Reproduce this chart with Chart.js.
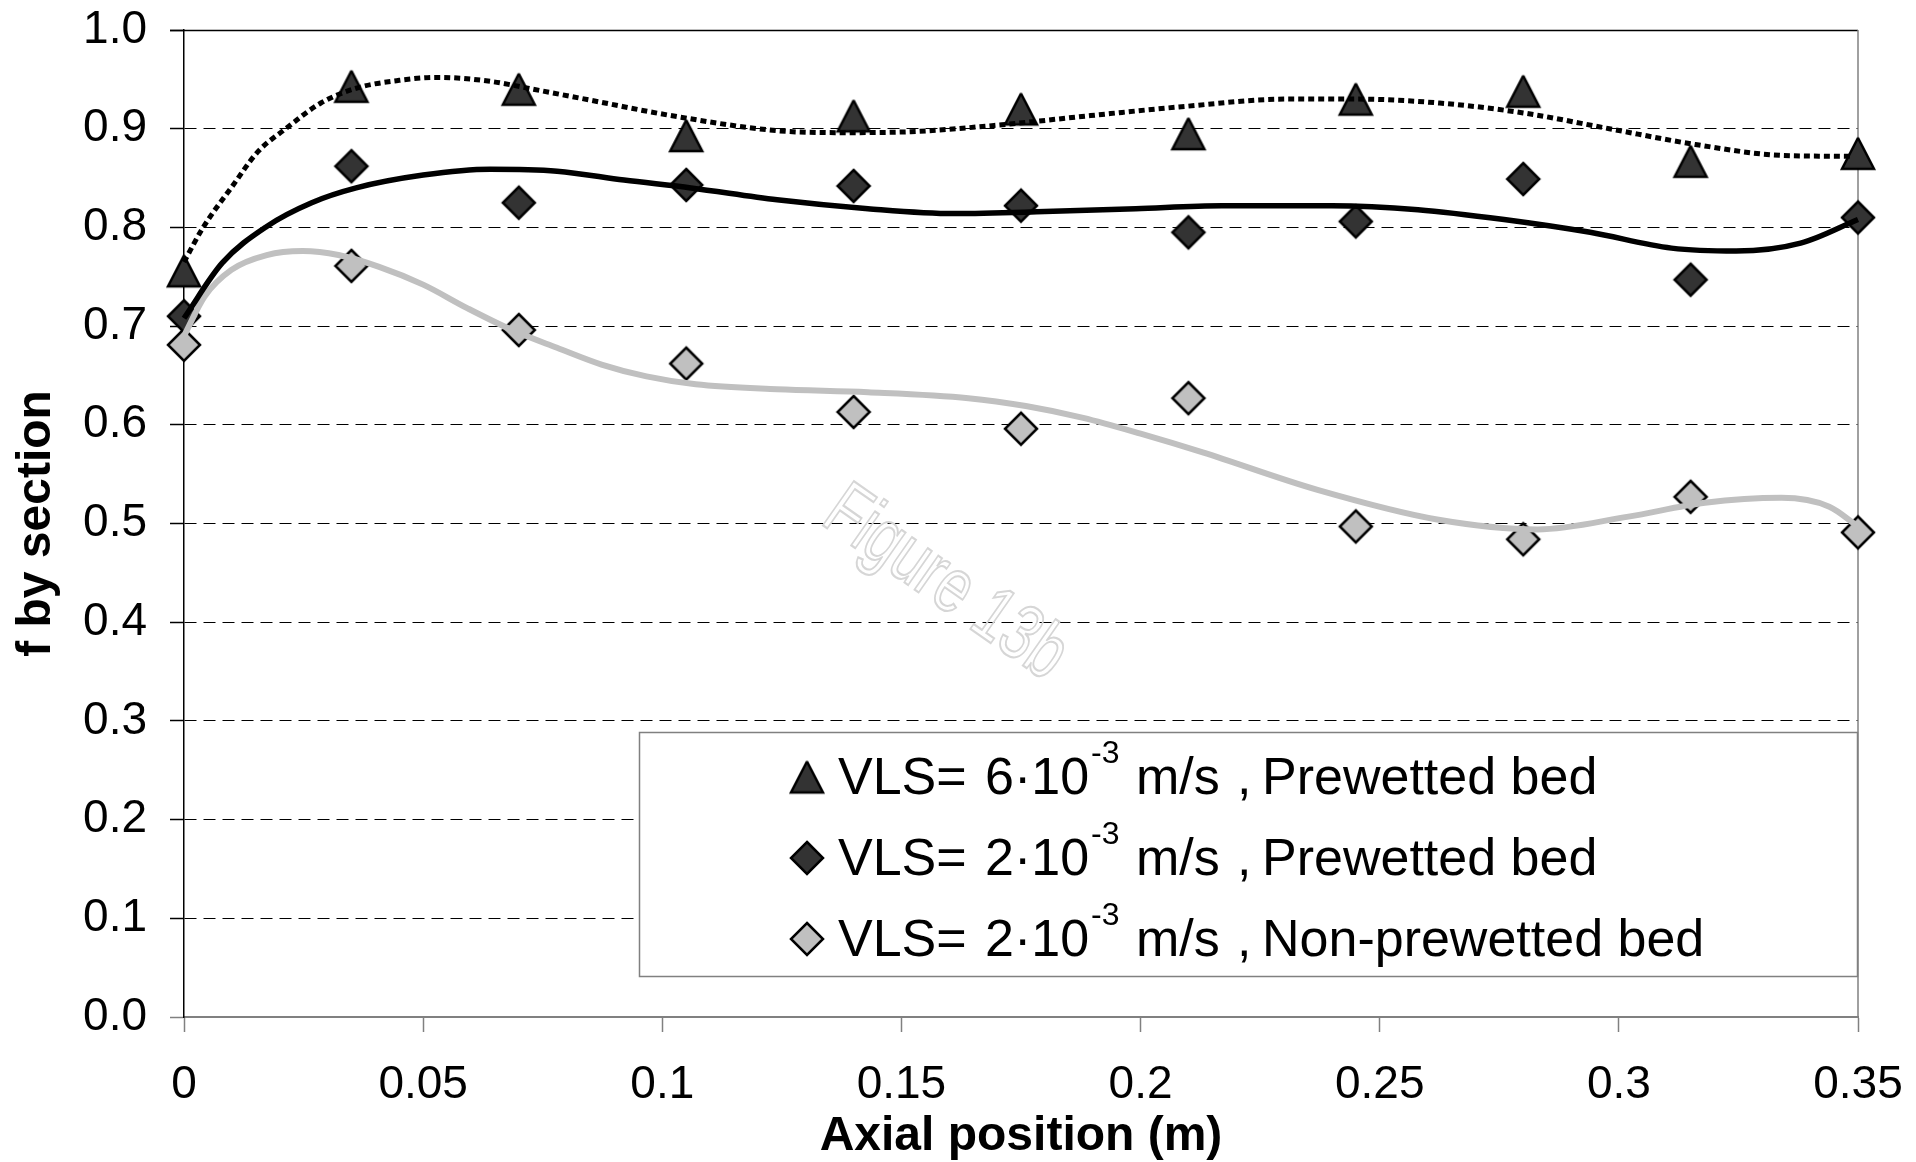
<!DOCTYPE html>
<html>
<head>
<meta charset="utf-8">
<title>f by section vs axial position</title>
<script src="https://cdn.jsdelivr.net/npm/chart.js@4.4.0/dist/chart.umd.min.js"></script>
<style>
    html, body { margin: 0; padding: 0; background: #ffffff; }
    #wrap { width: 1916px; height: 1162px; }
</style>
</head>
<body>
<div id="wrap"><canvas id="chart" width="1916" height="1162"></canvas></div>
<script>
// measured points
const xPositions = [0, 0.035, 0.07, 0.105, 0.14, 0.175, 0.21, 0.245, 0.28, 0.315, 0.35];
const fHighPrewetted = [0.756, 0.943, 0.940, 0.893, 0.913, 0.920, 0.895, 0.930, 0.938, 0.867, 0.875];
const fLowPrewetted = [0.710, 0.862, 0.825, 0.843, 0.842, 0.822, 0.795, 0.806, 0.849, 0.747, 0.810];
const fLowNonPrewetted = [0.681, 0.761, 0.696, 0.662, 0.613, 0.596, 0.627, 0.497, 0.484, 0.527, 0.491];

// trend curves
const trendHighX = [0, 0.004, 0.010, 0.0155, 0.021, 0.0286, 0.036, 0.045, 0.053, 0.064, 0.073, 0.087, 0.101, 0.124, 0.138, 0.152, 0.171, 0.189, 0.208, 0.231, 0.245, 0.2625, 0.280, 0.298, 0.316, 0.334, 0.349];
const trendHighY = [0.765, 0.800, 0.841, 0.877, 0.899, 0.926, 0.941, 0.949, 0.952, 0.948, 0.940, 0.927, 0.914, 0.898, 0.896, 0.897, 0.904, 0.913, 0.922, 0.930, 0.930, 0.926, 0.916, 0.900, 0.884, 0.873, 0.872];

const trendLowX = [0, 0.008, 0.0173, 0.0267, 0.036, 0.050, 0.064, 0.078, 0.092, 0.106, 0.124, 0.143, 0.161, 0.180, 0.199, 0.217, 0.240, 0.258, 0.276, 0.294, 0.311, 0.3245, 0.338, 0.350];
const trendLowY = [0.708, 0.764, 0.801, 0.825, 0.840, 0.853, 0.859, 0.857, 0.848, 0.840, 0.828, 0.819, 0.814, 0.816, 0.819, 0.822, 0.822, 0.818, 0.808, 0.795, 0.779, 0.776, 0.784, 0.808];

const trendNonX = [0, 0.0043, 0.0099, 0.0173, 0.0248, 0.0323, 0.0408, 0.050, 0.0593, 0.0686, 0.078, 0.0873, 0.0967, 0.107, 0.124, 0.143, 0.164, 0.176, 0.188, 0.200, 0.213, 0.237, 0.262, 0.283, 0.302, 0.318, 0.334, 0.344, 0.350];
const trendNonY = [0.690, 0.730, 0.757, 0.772, 0.776, 0.772, 0.760, 0.742, 0.718, 0.696, 0.678, 0.661, 0.649, 0.641, 0.636, 0.633, 0.627, 0.619, 0.607, 0.591, 0.572, 0.534, 0.504, 0.494, 0.507, 0.521, 0.526, 0.517, 0.497];

const xTickLabels = ['0', '0.05', '0.1', '0.15', '0.2', '0.25', '0.3', '0.35'];
const yTickLabels = ['0.0', '0.1', '0.2', '0.3', '0.4', '0.5', '0.6', '0.7', '0.8', '0.9', '1.0'];

const legendNumbers = ['6\u00B710', '2\u00B710', '2\u00B710'];
const legendBeds = ['Prewetted bed', 'Prewetted bed', 'Non-prewetted bed'];

const FONT = "'Liberation Sans', Arial, sans-serif";

function makeMarker(shape, fill, w, h) {
    const c = document.createElement('canvas');
    c.width = w + 8;
    c.height = h + 8;
    const g = c.getContext('2d');
    const cx = c.width / 2, cy = c.height / 2;
    g.beginPath();
    if (shape === 'triangle') {
        g.moveTo(cx, cy - h / 2);
        g.lineTo(cx + w / 2, cy + h / 2);
        g.lineTo(cx - w / 2, cy + h / 2);
    } else {
        g.moveTo(cx, cy - h / 2);
        g.lineTo(cx + w / 2, cy);
        g.lineTo(cx, cy + h / 2);
        g.lineTo(cx - w / 2, cy);
    }
    g.closePath();
    g.fillStyle = fill;
    g.fill();
    g.lineWidth = 2.5;
    g.miterLimit = 2;
    g.strokeStyle = '#000000';
    g.stroke();
    return c;
}

const triangleDark = makeMarker('triangle', '#333333', 32, 31);
const diamondDark = makeMarker('diamond', '#333333', 32, 32);
const diamondLight = makeMarker('diamond', '#c0c0c0', 32, 32);
const legendMarkers = [triangleDark, diamondDark, diamondLight];

const toPoints = (xs, ys) => ys.map((v, i) => ({ x: xs[i], y: v }));

// frame: solid top edge and grey right edge like the original plot area
const framePlugin = {
    id: 'frame',
    beforeDatasetsDraw(chart) {
        const { ctx, chartArea: a } = chart;
        ctx.save();
        ctx.strokeStyle = '#000000';
        ctx.lineWidth = 1.5;
        ctx.beginPath();
        ctx.moveTo(a.left - 14, Math.round(a.top) + 0.5);
        ctx.lineTo(a.right, Math.round(a.top) + 0.5);
        ctx.stroke();
        ctx.strokeStyle = '#808080';
        ctx.lineWidth = 1.5;
        ctx.beginPath();
        ctx.moveTo(a.right, a.top);
        ctx.lineTo(a.right, a.bottom);
        ctx.stroke();

        // watermark
        ctx.translate(a.left + 764, a.top + 550);
        ctx.rotate(35 * Math.PI / 180);
        ctx.scale(1, 1.35);
        ctx.font = '58px ' + FONT;
        ctx.textAlign = 'center';
        ctx.textBaseline = 'alphabetic';
        ctx.strokeStyle = '#d6d6d6';
        ctx.lineWidth = 1.6;
        ctx.strokeText('Figure 13b', 0, 20);
        ctx.restore();
    }
};

// legend box with superscripts, drawn by hand
const legendPlugin = {
    id: 'boxLegend',
    afterDraw(chart) {
        const { ctx, chartArea: a } = chart;
        const left = a.left + 455, top = a.top + 702;
        const right = a.right - 1, bottom = a.bottom - 41;
        ctx.save();
        ctx.fillStyle = '#ffffff';
        ctx.fillRect(left, top, right - left, bottom - top);
        ctx.strokeStyle = '#808080';
        ctx.lineWidth = 1.5;
        ctx.strokeRect(left + 0.5, top + 0.5, right - left, bottom - top);

        ctx.fillStyle = '#000000';
        ctx.textBaseline = 'alphabetic';
        ctx.textAlign = 'left';
        for (let i = 0; i < 3; i++) {
            const cy = top + 45 + i * 81;
            const base = cy + 17;
            const m = legendMarkers[i];
            ctx.drawImage(m, left + 168 - m.width / 2, cy - m.height / 2);

            ctx.font = '52px ' + FONT;
            ctx.fillText('VLS=', left + 199, base);
            ctx.fillText(legendNumbers[i], left + 346, base);
            const supX = left + 346 + ctx.measureText(legendNumbers[i]).width + 2;
            ctx.fillText('m/s', left + 497, base);
            ctx.fillText(',', left + 598, base);
            ctx.fillText(legendBeds[i], left + 623, base);

            ctx.font = '32px ' + FONT;
            ctx.fillText('-3', supX, base - 31);
        }
        ctx.restore();
    }
};

const ctx = document.getElementById('chart').getContext('2d');
new Chart(ctx, {
    type: 'scatter',
    data: {
        datasets: [
            {
                label: 'trend high',
                data: toPoints(trendHighX, trendHighY),
                showLine: true,
                pointRadius: 0,
                borderColor: '#000000',
                borderWidth: 5,
                borderDash: [6, 4],
                borderCapStyle: 'butt',
                cubicInterpolationMode: 'monotone',
                clip: false,
                order: 1
            },
            {
                label: 'trend low',
                data: toPoints(trendLowX, trendLowY),
                showLine: true,
                pointRadius: 0,
                borderColor: '#000000',
                borderWidth: 5.5,
                cubicInterpolationMode: 'monotone',
                clip: false,
                order: 1
            },
            {
                label: 'trend non',
                data: toPoints(trendNonX, trendNonY),
                showLine: true,
                pointRadius: 0,
                borderColor: '#c0c0c0',
                borderWidth: 6,
                cubicInterpolationMode: 'monotone',
                clip: false,
                order: 1
            },
            {
                label: 'VLS= 6\u00B710-3 m/s, Prewetted bed',
                data: toPoints(xPositions, fHighPrewetted),
                pointStyle: triangleDark,
                pointRadius: 17,
                clip: false,
                order: 2
            },
            {
                label: 'VLS= 2\u00B710-3 m/s, Prewetted bed',
                data: toPoints(xPositions, fLowPrewetted),
                pointStyle: diamondDark,
                pointRadius: 17,
                clip: false,
                order: 2
            },
            {
                label: 'VLS= 2\u00B710-3 m/s, Non-prewetted bed',
                data: toPoints(xPositions, fLowNonPrewetted),
                pointStyle: diamondLight,
                pointRadius: 17,
                clip: false,
                order: 2
            }
        ]
    },
    options: {
        responsive: false,
        animation: false,
        devicePixelRatio: 1,
        events: [],
        layout: { padding: { left: 0, right: 58, top: 30, bottom: 0 } },
        plugins: {
            legend: { display: false },
            tooltip: { enabled: false }
        },
        scales: {
            x: {
                type: 'linear',
                position: 'bottom',
                min: 0,
                max: 0.35,
                afterFit: (scale) => {
                    scale.height = 145;
                    scale.paddingLeft = 0;
                    scale.paddingRight = 0;
                },
                ticks: {
                    stepSize: 0.05,
                    autoSkip: false,
                    maxRotation: 0,
                    padding: 26,
                    color: '#000000',
                    font: { family: FONT, size: 46 },
                    callback: (v) => xTickLabels[Math.round(v / 0.05)]
                },
                grid: {
                    drawOnChartArea: false,
                    tickLength: 15,
                    tickColor: '#808080',
                    tickWidth: 1.5
                },
                border: { color: '#808080', width: 2 },
                title: {
                    display: true,
                    text: 'Axial position (m)',
                    color: '#000000',
                    font: { family: FONT, size: 48, weight: 'bold', lineHeight: 1.05 },
                    padding: { top: 0, bottom: 0 }
                }
            },
            y: {
                min: 0,
                max: 1,
                afterFit: (scale) => {
                    scale.width = 184;
                    scale.paddingTop = 0;
                    scale.paddingBottom = 0;
                },
                ticks: {
                    stepSize: 0.1,
                    autoSkip: false,
                    padding: 23,
                    color: '#000000',
                    font: { family: FONT, size: 46 },
                    callback: (v) => yTickLabels[Math.round(v * 10)]
                },
                grid: {
                    color: (c) => (c.tick && c.tick.value === 0) ? 'rgba(0,0,0,0)' : '#000000',
                    lineWidth: 1,
                    tickLength: 14,
                    tickColor: (c) => (c.tick && c.tick.value === 0) ? '#808080' : '#000000',
                    tickWidth: 1.5,
                    tickBorderDash: []
                },
                border: { color: '#000000', width: 1.5, dash: [12, 7] },
                title: {
                    display: true,
                    text: 'f by section',
                    color: '#000000',
                    font: { family: FONT, size: 48, weight: 'bold', lineHeight: 1.2 },
                    padding: { top: 8, bottom: 0 }
                }
            }
        }
    },
    plugins: [framePlugin, legendPlugin]
});
</script>
</body>
</html>
